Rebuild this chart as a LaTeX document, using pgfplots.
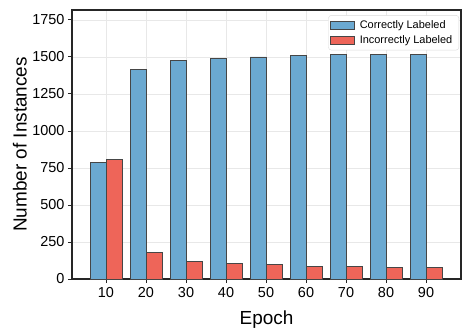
\documentclass[border=0pt]{standalone}
\usepackage{pgfplots}
\pgfplotsset{compat=1.18}
\usepackage{fontspec}
\setmainfont{Liberation Sans}
\definecolor{cblue}{RGB}{107,169,209}
\definecolor{cred}{RGB}{238,101,89}
\definecolor{cedge}{RGB}{70,70,70}
\begin{document}
\begin{tikzpicture}
\begin{axis}[
    scale only axis,
    width=389bp, height=269bp,
    ybar, bar width=16bp,
    xmin=1.5, xmax=98.75,
    ymin=0, ymax=1817,
    xtick={10,20,...,90},
    ytick={0,250,...,1750},
    xlabel={Epoch}, ylabel={Number of Instances},
    label style={font=\fontsize{19}{21}\selectfont},
    xlabel style={at={(axis description cs:0.5,-0.15)}, anchor=center},
    ylabel style={at={(axis description cs:-0.134,0.5)}, anchor=center},
    tick label style={font=\fontsize{14.5}{16}\selectfont},
    xticklabel style={yshift=-1bp},
    /pgf/number format/assume math mode=true,
    /pgf/number format/1000 sep={},
    grid=major,
    major grid style={gray!18, line width=0.6pt},
    axis line style={black!85, line width=1.2pt},
    tick style={black!85, line width=0.9pt},
    major tick length=4bp,
    tick pos=left, tick align=outside,
    legend style={at={(0.995,0.981)}, anchor=north east,
        font=\fontsize{11}{13}\selectfont, draw=black!15, rounded corners=3pt,
        row sep=2bp, inner xsep=2bp, inner ysep=3bp,
        nodes={inner xsep=4.5bp, inner ysep=2bp}},
    legend cell align=left,
    legend image code/.code={\draw[#1, sharp corners] (0bp,-4bp) rectangle (24bp,4bp);},
]
\addplot[fill=cblue, draw=cedge, line width=0.8pt, bar shift=-8bp] coordinates {
(10,790) (20,1417) (30,1476) (40,1487) (50,1500) (60,1510) (70,1514) (80,1515) (90,1515)};
\addplot[fill=cred, draw=cedge, line width=0.8pt, bar shift=8bp] coordinates {
(10,805) (20,180) (30,121) (40,108) (50,96) (60,86) (70,83) (80,80) (90,80)};
\legend{Correctly Labeled, Incorrectly Labeled}
\end{axis}
\pgfresetboundingbox
\useasboundingbox ([shift={(-72bp,-57bp)}]current axis.south west) rectangle ([shift={(10bp,10bp)}]current axis.north east);
\end{tikzpicture}
\end{document}
